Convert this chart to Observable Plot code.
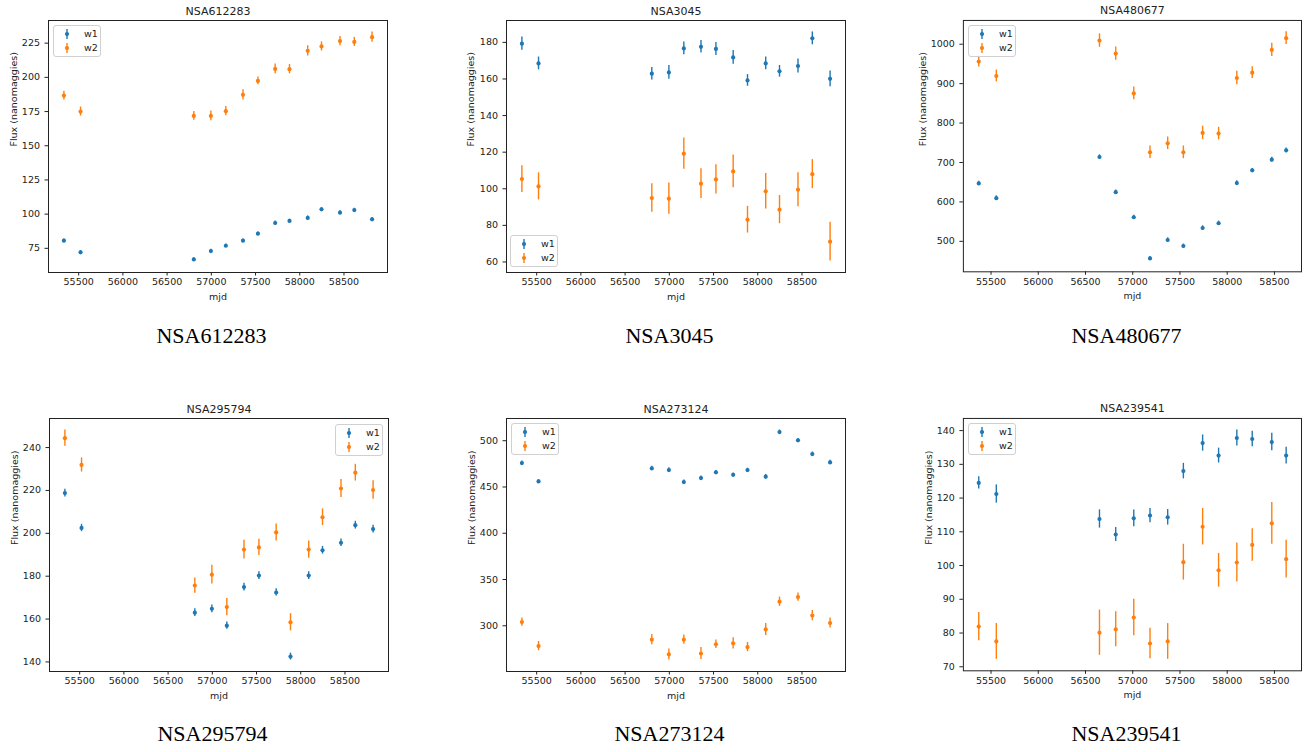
<!DOCTYPE html>
<html><head><meta charset="utf-8">
<script src="https://cdn.jsdelivr.net/npm/d3@7"></script>
<script src="https://cdn.jsdelivr.net/npm/@observablehq/plot@0.6"></script>
<style>
body{margin:0;background:#fff;}
#root{position:relative;width:1307px;height:752px;overflow:hidden;font-family:"DejaVu Sans",sans-serif;}
.panel{position:absolute;}
.panel svg{display:block;}
.caption{position:absolute;font-family:"Liberation Serif",serif;font-size:22px;line-height:22px;text-align:center;color:#000;white-space:nowrap;}
.legend{position:absolute;box-sizing:border-box;width:48px;height:32px;border:1px solid #d0d0d0;border-radius:3px;background:rgba(255,255,255,0.8);font-family:"DejaVu Sans",sans-serif;font-size:9.5px;color:#222;}
.legend .row{position:absolute;left:0;height:12px;line-height:12px;}
.legend svg{position:absolute;left:8px;top:0;}
.legend span{position:absolute;left:30px;top:0;}
</style>
</head>
<body>
<div id="root"></div>
<script>
// ---------- data ----------
const bands = ["w1", "w2"];
const bandColors = ["#1f77b4", "#ff7f0e"];
const xTicks = [55500, 56000, 56500, 57000, 57500, 58000, 58500];

// epochs (mjd)
const mjdA = [55333, 55521, 56802, 56995, 57164, 57358, 57527, 57722, 57884, 58090, 58246, 58455, 58617, 58818];
const mjdB = [55370, 55556, 56648, 56820, 57011, 57183, 57370, 57536, 57740, 57909, 58102, 58265, 58472, 58624];

// NSA612283
const p1W1 = [80.6, 72.1, 66.9, 73.0, 76.9, 80.6, 85.7, 93.5, 95.0, 97.2, 103.5, 101.1, 103.0, 96.2];
const p1W1e = [1.3, 1.3, 1.2, 1.3, 1.2, 1.3, 1.2, 1.4, 1.3, 1.4, 1.3, 1.3, 1.3, 1.3];
const p1W2 = [186.7, 175.0, 171.8, 171.8, 175.3, 187.2, 197.4, 206.2, 206.0, 219.4, 222.6, 226.5, 225.9, 229.4];
const p1W2e = [3.2, 3.3, 3.2, 3.6, 3.4, 3.8, 2.8, 3.5, 3.4, 3.8, 3.3, 3.3, 3.3, 3.8];
const p1YTicks = [75, 100, 125, 150, 175, 200, 225];

// NSA3045
const p2W1 = [179.3, 168.5, 162.9, 163.6, 176.7, 177.6, 176.4, 171.8, 159.2, 168.5, 164.2, 167.1, 182.2, 160.1];
const p2W1e = [3.6, 3.5, 3.4, 3.7, 3.5, 3.4, 3.5, 3.8, 3.2, 3.5, 3.2, 3.8, 3.5, 4.3];
const p2W2 = [105.3, 101.3, 94.9, 94.6, 119.2, 102.8, 105.1, 109.5, 83.1, 98.6, 88.6, 99.5, 108.0, 71.1];
const p2W2e = [7.3, 7.4, 7.8, 8.5, 8.5, 8.1, 8.0, 9.0, 7.3, 9.7, 7.7, 9.3, 7.9, 10.6];
const p2YTicks = [60, 80, 100, 120, 140, 160, 180];

// NSA480677
const p3W1 = [646.9, 609.5, 713.9, 624.8, 561.1, 456.7, 503.4, 488.1, 533.9, 545.8, 647.7, 680.0, 707.1, 730.9];
const p3W1e = [5.5, 6, 5.5, 5.5, 5, 5, 5.5, 5, 5.5, 5.5, 6, 5, 6, 6];
const p3W2 = [955.9, 919.4, 1009.3, 976.2, 875.2, 725.8, 748.7, 725.8, 775.0, 773.3, 914.3, 927.8, 985.6, 1015.3];
const p3W2e = [14, 15, 17, 17, 16, 16, 16, 16, 17, 16, 17, 15, 17, 16];
const p3YTicks = [500, 600, 700, 800, 900, 1000];

// NSA295794
const p4W1 = [218.8, 202.5, 163.0, 164.8, 156.9, 174.9, 180.3, 172.4, 142.5, 180.3, 192.1, 195.6, 203.8, 202.0];
const p4W1e = [1.8, 1.7, 1.8, 1.8, 1.7, 1.8, 1.8, 1.7, 1.6, 1.8, 1.8, 1.8, 1.8, 1.8];
const p4W2 = [244.4, 231.9, 175.6, 180.7, 165.6, 192.4, 193.4, 200.4, 158.5, 192.4, 207.5, 220.9, 228.3, 220.2];
const p4W2e = [3.8, 3.3, 3.6, 4.4, 4.0, 4.4, 3.8, 4.0, 4.0, 4.0, 3.9, 4.2, 3.9, 4.3];
const p4YTicks = [140, 160, 180, 200, 220, 240];

// NSA273124
const p5W1 = [475.9, 456.0, 470.1, 468.3, 455.3, 459.6, 465.8, 463.2, 468.3, 461.1, 509.4, 500.4, 485.6, 476.6];
const p5W1e = [2.2, 2.0, 2.2, 2.4, 2.2, 2.2, 2.0, 2.0, 2.0, 2.4, 2.2, 2.0, 2.2, 2.4];
const p5W2 = [304, 278, 285, 269, 285, 270, 280, 281, 277, 296, 326, 331, 311, 303];
const p5W2e = [4.5, 5, 5.5, 6, 5, 6.5, 4.5, 6, 5, 6.5, 5, 4.5, 5.5, 5.5];
const p5YTicks = [300, 350, 400, 450, 500];

// NSA239541
const p6W1 = [124.5, 121.2, 113.8, 109.2, 114.0, 114.8, 114.3, 128.0, 136.3, 132.6, 137.8, 137.5, 136.6, 132.6];
const p6W1e = [1.8, 2.7, 2.7, 2.1, 2.5, 2.1, 2.3, 2.3, 2.4, 2.2, 2.4, 2.3, 2.6, 2.5];
const p6W2 = [81.9, 77.5, 80.1, 81.1, 84.6, 76.9, 77.5, 101.0, 111.5, 98.6, 100.9, 106.1, 112.5, 101.9];
const p6W2e = [4.2, 5.3, 6.7, 5.2, 5.4, 4.5, 5.3, 5.3, 5.4, 5.0, 5.8, 4.8, 6.2, 5.6];
const p6YTicks = [70, 80, 90, 100, 110, 120, 130, 140];

const panels = [
  {name: "NSA612283", mjd: mjdA, w1: p1W1, w1e: p1W1e, w2: p1W2, w2e: p1W2e, yTicks: p1YTicks, legend: "tl", left: 0, top: 0, fh: 252, yOff: 34.3},
  {name: "NSA3045", mjd: mjdA, w1: p2W1, w1e: p2W1e, w2: p2W2, w2e: p2W2e, yTicks: p2YTicks, legend: "bl", left: 458, top: 0, fh: 252, yOff: 35.3},
  {name: "NSA480677", mjd: mjdB, w1: p3W1, w1e: p3W1e, w2: p3W2, w2e: p3W2e, yTicks: p3YTicks, legend: "tl", left: 915, top: 0, fh: 252, yOff: 40.6},
  {name: "NSA295794", mjd: mjdA, w1: p4W1, w1e: p4W1e, w2: p4W2, w2e: p4W2e, yTicks: p4YTicks, legend: "tr", left: 1, top: 398, fh: 253, yOff: 35},
  {name: "NSA273124", mjd: mjdA, w1: p5W1, w1e: p5W1e, w2: p5W2, w2e: p5W2e, yTicks: p5YTicks, legend: "tl", left: 458, top: 398, fh: 253, yOff: 35},
  {name: "NSA239541", mjd: mjdB, w1: p6W1, w1e: p6W1e, w2: p6W2, w2e: p6W2e, yTicks: p6YTicks, legend: "tl", left: 915, top: 398, fh: 253, yOff: 34.7}
];

// ---------- drawing ----------
const root = document.getElementById("root");
const ML = 48, MR = 6, MT = 20, MB = 34, FW = 339;

function legendBox(pos, fh) {
  const box = document.createElement("div");
  box.className = "legend";
  const off = 5;
  if (pos === "tl") { box.style.left = (ML + off) + "px"; box.style.top = (MT + off) + "px"; }
  if (pos === "bl") { box.style.left = (ML + off - 1) + "px"; box.style.top = (MT + fh - off - 32) + "px"; }
  if (pos === "tr") { box.style.left = (ML + FW - off - 48) + "px"; box.style.top = (MT + off + 1) + "px"; }
  bands.forEach((b, i) => {
    const row = document.createElement("div");
    row.className = "row";
    row.style.top = (2 + i * 14.4) + "px";
    row.style.width = "46px";
    row.innerHTML = `<svg width="10" height="12" viewBox="0 0 10 12"><line x1="5" x2="5" y1="1" y2="11" stroke="${bandColors[i]}" stroke-width="1.4"/><circle cx="5" cy="6" r="2.1" fill="${bandColors[i]}"/></svg><span>${b}</span>`;
    box.appendChild(row);
  });
  return box;
}

panels.forEach(p => {
  const rows1 = p.mjd.map((m, i) => ({band: "w1", mjd: m, flux: p.w1[i], err: p.w1e[i]}));
  const rows2 = p.mjd.map((m, i) => ({band: "w2", mjd: m, flux: p.w2[i], err: p.w2e[i]}));
  const all = rows1.concat(rows2);
  const xmin = d3.min(p.mjd), xmax = d3.max(p.mjd), xpad = (xmax - xmin) * 0.05;
  const ylo = d3.min(all, d => d.flux - d.err), yhi = d3.max(all, d => d.flux + d.err), ypad = (yhi - ylo) * 0.05;
  const layer = rows => [
    Plot.ruleX(rows, {x: "mjd", y1: d => d.flux - d.err, y2: d => d.flux + d.err, stroke: "band", strokeWidth: 1.4}),
    Plot.dot(rows, {x: "mjd", y: "flux", fill: "band", r: 2.1})
  ];
  const chart = Plot.plot({
    width: ML + FW + MR, height: MT + p.fh + MB,
    marginLeft: ML, marginRight: MR, marginTop: MT, marginBottom: MB,
    style: {fontFamily: "'DejaVu Sans', sans-serif", fontSize: "9.5px", color: "#222", background: "transparent", overflow: "visible"},
    x: {domain: [xmin - xpad, xmax + xpad], ticks: xTicks, tickFormat: d => String(d), label: null, tickSize: 3.5, tickPadding: 2.5},
    y: {domain: [ylo - ypad, yhi + ypad], ticks: p.yTicks, tickFormat: d => String(d), label: null, tickSize: 3.5, tickPadding: 5},
    color: {domain: bands, range: bandColors},
    marks: [
      ...layer(rows1),
      ...layer(rows2),
      Plot.frame({stroke: "#222", strokeWidth: 1}),
      Plot.text([p.name], {text: d => d, frameAnchor: "top", dy: -9.5, fontSize: 11, fill: "#222", lineAnchor: "middle"}),
      Plot.text(["mjd"], {text: d => d, frameAnchor: "bottom", dy: 24.5, fontSize: 9.5, fill: "#222", lineAnchor: "middle"}),
      Plot.text(["Flux (nanomaggies)"], {text: d => d, frameAnchor: "left", dx: -p.yOff, rotate: -90, fontSize: 9.5, fill: "#222", lineAnchor: "middle"})
    ]
  });
  const div = document.createElement("div");
  div.className = "panel";
  div.style.left = p.left + "px";
  div.style.top = p.top + "px";
  div.appendChild(chart);
  div.appendChild(legendBox(p.legend, p.fh));
  root.appendChild(div);

  const cap = document.createElement("div");
  cap.className = "caption";
  cap.textContent = p.name;
  cap.style.left = p.left + "px";
  cap.style.width = "423px";
  cap.style.top = (p.top + 325) + "px";
  root.appendChild(cap);
});
</script>
</body></html>
